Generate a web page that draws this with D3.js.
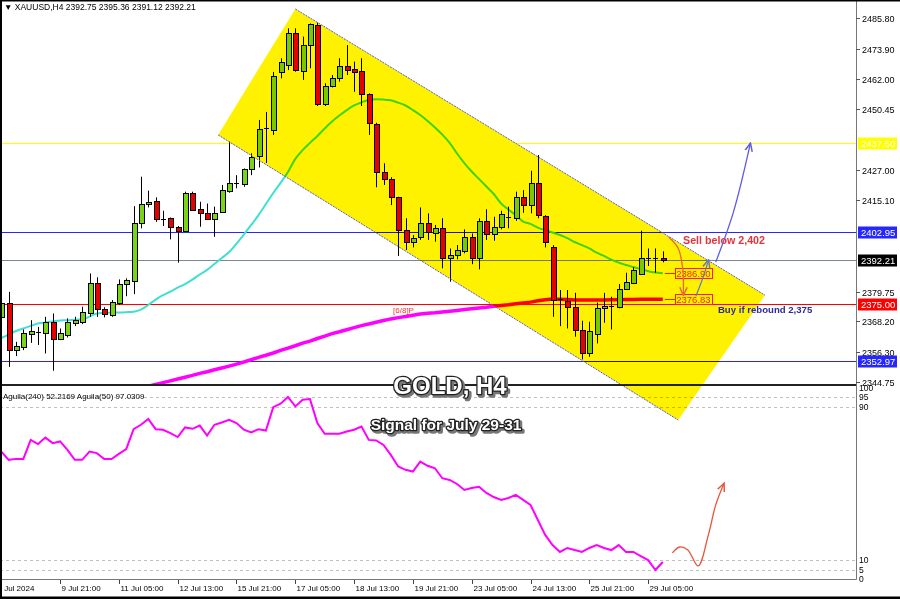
<!DOCTYPE html>
<html><head><meta charset="utf-8">
<script src="https://cdn.jsdelivr.net/npm/d3@7"></script>
<style>body{margin:0;background:#fff}svg{display:block}</style>
</head><body><svg id="c" width="900" height="599"></svg>
<script>
// ---------- DATA ----------
const openP=[2370.0,2375.5,2357.1,2358.2,2363.3,2364.0,2363.8,2368.1,2361.6,2362.9,2367.7,2368.1,2371.6,2383.0,2372.9,2370.7,2375.5,2382.7,2384.0,2406.5,2413.7,2414.9,2408.1,2408.2,2404.9,2403.2,2418.1,2411.6,2410.1,2407.9,2410.7,2418.9,2421.6,2421.5,2427.2,2432.3,2442.7,2442.4,2465.0,2467.6,2479.9,2465.4,2475.3,2483.1,2452.5,2459.4,2462.4,2467.2,2465.9,2465.4,2456.3,2444.7,2426.2,2423.3,2416.3,2403.6,2399.1,2401.0,2406.2,2402.6,2404.3,2392.7,2393.9,2395.6,2400.8,2392.7,2407.2,2402.1,2404.7,2408.4,2408.2,2416.3,2413.3,2421.7,2409.1,2396.9,2376.5,2376.2,2373.7,2364.9,2356.1,2363.3,2373.3,2374.1,2373.7,2380.6,2383.2,2386.6,2392.7,2392.5,2392.75];
const highP=[2376.5,2379.7,2360.3,2365.1,2368.7,2366.1,2370.0,2371.3,2365.5,2369.4,2370.0,2373.9,2386.8,2385.3,2373.7,2376.5,2384.5,2384.9,2412.9,2424.3,2418.9,2416.3,2411.1,2408.5,2405.2,2418.5,2418.5,2414.6,2413.9,2412.7,2421.1,2437.9,2424.9,2427.5,2433.4,2446.3,2449.4,2464.9,2470.2,2481.8,2481.8,2478.6,2483.7,2484.0,2460.5,2463.7,2470.2,2475.3,2468.9,2470.2,2456.6,2445.2,2429.5,2424.1,2416.5,2408.2,2401.7,2412.4,2410.1,2405.6,2408.2,2396.5,2397.8,2403.9,2402.3,2408.2,2411.7,2408.8,2411.1,2412.7,2418.5,2419.1,2426.6,2432.7,2409.4,2397.8,2380.4,2380.4,2379.3,2368.5,2368.1,2375.5,2379.3,2377.8,2382.7,2387.1,2389.2,2403.4,2396.5,2396.5,2395.36];
const lowP=[2369.3,2350.6,2354.8,2357.1,2359.9,2359.1,2355.8,2349.1,2361.0,2362.0,2366.4,2367.2,2370.0,2370.0,2369.8,2370.0,2374.6,2378.0,2378.8,2404.3,2412.4,2406.8,2405.2,2400.0,2391.0,2403.0,2411.1,2404.9,2407.5,2401.0,2410.7,2418.1,2419.8,2420.4,2424.9,2427.9,2429.6,2440.5,2462.4,2465.6,2465.0,2461.8,2466.3,2451.7,2451.7,2458.9,2461.1,2463.7,2457.2,2451.7,2440.5,2420.2,2421.1,2413.3,2393.6,2395.9,2396.9,2399.8,2399.8,2399.1,2388.8,2383.6,2392.3,2394.6,2390.4,2388.4,2399.8,2399.5,2403.9,2404.3,2407.2,2410.3,2410.1,2408.2,2396.9,2370.0,2366.4,2365.5,2362.3,2353.5,2354.5,2359.7,2367.7,2365.1,2373.3,2380.4,2382.7,2386.2,2389.7,2387.1,2391.12];
const closeP=[2375.5,2357.1,2358.7,2363.6,2364.6,2364.3,2368.1,2361.6,2363.8,2368.1,2368.7,2372.0,2383.0,2372.9,2371.1,2375.8,2382.7,2384.2,2406.5,2413.7,2414.6,2407.8,2407.9,2404.7,2403.2,2418.1,2411.4,2410.1,2407.9,2410.3,2419.1,2421.7,2421.8,2427.2,2431.8,2442.7,2443.1,2463.3,2468.9,2479.9,2465.6,2475.3,2483.5,2452.5,2459.4,2462.4,2467.2,2465.6,2465.0,2456.3,2445.2,2426.2,2423.3,2416.3,2403.6,2399.1,2400.4,2406.2,2403.0,2404.3,2392.7,2393.9,2395.9,2400.8,2392.7,2407.2,2402.1,2404.7,2409.8,2408.7,2416.3,2413.3,2421.7,2409.4,2399.1,2376.5,2376.9,2373.9,2364.9,2356.1,2364.6,2373.3,2374.2,2374.3,2380.6,2383.6,2388.1,2392.7,2392.5,2392.8,2392.21];
const maFast=[2361.8,2363.1,2364.5,2365.5,2366.5,2367.4,2367.8,2368.2,2368.6,2368.7,2368.9,2369.0,2370.1,2371.3,2371.6,2371.6,2371.7,2371.8,2372.0,2372.8,2374.6,2376.7,2378.4,2379.8,2381.3,2382.7,2384.4,2386.4,2388.2,2390.5,2392.8,2395.1,2398.4,2401.9,2405.6,2409.4,2413.7,2418.0,2421.9,2426.1,2431.2,2434.6,2437.4,2440.1,2443.0,2445.7,2448.0,2450.1,2451.9,2453.1,2454.0,2454.3,2454.2,2453.9,2453.0,2451.9,2450.1,2448.2,2445.9,2443.4,2440.6,2437.4,2433.3,2429.6,2426.3,2423.4,2420.5,2417.6,2413.9,2411.6,2409.4,2406.9,2406.0,2404.6,2403.6,2402.7,2401.7,2400.5,2399.0,2397.8,2396.5,2394.9,2393.6,2392.2,2391.0,2390.1,2389.3,2388.5,2387.7,2387.2,2386.9];
const maSlow=[null,null,null,null,null,null,null,null,null,null,null,null,null,null,null,null,null,null,2341.6,2342.4,2343.1,2343.8,2344.5,2345.2,2345.9,2346.6,2347.3,2348.1,2348.7,2349.5,2350.2,2350.9,2351.7,2352.5,2353.4,2354.3,2355.1,2356.0,2357.0,2357.9,2358.8,2359.8,2360.6,2361.6,2362.5,2363.5,2364.2,2365.0,2365.8,2366.6,2367.2,2367.9,2368.6,2369.2,2369.7,2370.1,2370.6,2371.1,2371.4,2371.6,2371.9,2372.2,2372.5,2372.8,2373.1,2373.4,2373.7,2374.1,2374.4,2374.7,2375.1,2375.4,2375.7,2376.2,2376.6,2376.9,2376.8,2376.7,2376.5,2376.5,2376.5,2376.5,2376.5,2376.6,2376.6,2376.7,2376.7,2376.8,2376.8,2376.8,2376.83];
const aguila=[66.6,62.3,62.8,62.8,72.7,70.5,73.9,71.0,71.9,67.5,62.3,62.3,66.6,65.8,62.7,62.7,65.4,67.9,78.3,80.6,83.6,78.3,78.0,76.2,74.2,79.2,78.5,80.2,75.0,80.6,81.8,83.2,81.5,78.0,76.6,78.3,77.6,89.8,91.6,95.1,90.2,93.7,94.0,81.5,75.9,75.9,75.9,77.1,78.0,79.7,72.7,72.4,70.1,64.9,58.8,57.1,56.2,61.4,59.2,57.9,52.7,51.8,49.7,46.6,47.6,48.2,45.0,42.9,41.4,42.4,44.0,41.4,38.8,30.9,23.1,17.8,14.2,16.3,15.2,14.2,16.3,17.8,16.3,15.2,17.8,14.2,14.2,12.1,10.0,4.8,9.0];
const timeLabels=["8 Jul 2024","9 Jul 21:00","11 Jul 05:00","12 Jul 13:00","15 Jul 21:00","17 Jul 05:00","18 Jul 13:00","19 Jul 21:00","23 Jul 05:00","24 Jul 13:00","25 Jul 21:00","29 Jul 05:00"];
const priceTicks=[2485.80,2473.90,2462.00,2450.45,2427.00,2415.10,2379.75,2368.20,2356.30,2344.75];
const levels=[{v:2437.50,c:"#ffff00",t:"#ffffff"},{v:2402.95,c:"#2626ff",t:"#ffffff"},{v:2392.21,c:"#000000",t:"#ffffff",line:"#7a8896"},{v:2375.00,c:"#ff0000",t:"#ffffff"},{v:2352.97,c:"#2626ff",t:"#ffffff"}];
const oscLevels=[95,90,10,5];
const oscTicks=[100,95,90,10,5,0];
const channel=[[29.5,2440.5],[40,2489.3],[103.9,2378.4],[92.1,2330.0]];
const sellArrow=[[90.8,2400.9],[92.1,2396.5],[92.7,2389.0],[92.8,2378.6]];
const buyArrowSmall=[[94.5,2378.0],[95.5,2385.5],[96.2,2391.8]];
const buyArrowBig=[[97.2,2391.2],[99.6,2410.5],[101.9,2437.0]];
const oscArrow=[[91.3,13.7],[92.3,16.8],[93.4,15.3],[94.8,6.9],[96.2,23.1],[97.2,38.8],[98.3,49.7]];

// ---------- SETUP ----------
const W=900,H=599,plotR=856,priceBot=385,oscTop=387,oscBot=579;
const svg=d3.select('#c');
const x=d3.scaleLinear().domain([0,100]).range([1.3,736.3]);
const y=d3.scaleLinear().domain([2344.75,2485.80]).range([382,18]);
const yo=d3.scaleLinear().domain([0,100]).range([579.2,387.6]);
const FONT='"Liberation Sans",Arial,sans-serif';
svg.append('rect').attr('width',W).attr('height',H).attr('fill','#fff');
const defs=svg.append('defs');
defs.append('clipPath').attr('id','cp').append('rect').attr('x',0).attr('y',0).attr('width',plotR).attr('height',priceBot);
defs.append('clipPath').attr('id','co').append('rect').attr('x',0).attr('y',oscTop).attr('width',plotR).attr('height',oscBot-oscTop);
function marker(id,color){
  defs.append('marker').attr('id',id).attr('viewBox','0 0 10 10').attr('refX',8).attr('refY',5)
   .attr('markerWidth',7).attr('markerHeight',7).attr('orient','auto-start-reverse')
   .append('path').attr('d','M0,1 L9,5 L0,9').attr('fill','none').attr('stroke',color).attr('stroke-width',1.6);
}
marker('mo','#e8673c');marker('mb','#5b5be6');marker('ms','#6878b8');marker('mr','#e8553c');

const pp=svg.append('g').attr('clip-path','url(#cp)');
levels.forEach(l=>{
  pp.append('line').attr('x1',0).attr('x2',plotR).attr('y1',Math.round(y(l.v))+0.5).attr('y2',Math.round(y(l.v))+0.5)
   .attr('stroke',l.line||l.c).attr('stroke-width',1);
});
const idx=d3.range(openP.length);
pp.append('path').datum(idx.filter(i=>maSlow[i]!=null)).attr('fill','none').attr('stroke','#ff00ff').attr('stroke-width',3.5)
  .attr('d',d3.line().x(i=>x(i)).y(i=>y(maSlow[i])));
pp.append('path').datum(idx).attr('fill','none').attr('stroke','#3fe0d0').attr('stroke-width',2)
  .attr('d',d3.line().curve(d3.curveMonotoneX).x(i=>x(i)).y(i=>y(maFast[i])));
const cg=pp.append('g');
idx.forEach(i=>{
  const cx=Math.round(x(i));
  cg.append('line').attr('x1',cx+0.5).attr('x2',cx+0.5).attr('y1',y(highP[i])).attr('y2',y(lowP[i])).attr('stroke','#000').attr('stroke-width',1);
  const up=closeP[i]>=openP[i];
  const top=Math.round(y(Math.max(openP[i],closeP[i]))),bot=Math.round(y(Math.min(openP[i],closeP[i])));
  if(bot-top<1.5){
    cg.append('line').attr('x1',cx-2).attr('x2',cx+3).attr('y1',top+0.5).attr('y2',top+0.5).attr('stroke','#000');
  } else {
    cg.append('rect').attr('x',cx-2+0.5).attr('y',top+0.5).attr('width',5).attr('height',bot-top)
     .attr('fill',up?'#78d414':'#e60000').attr('stroke','#000').attr('stroke-width',1);
  }
});
[{v:maFast[90],t:'2386.90'},{v:maSlow[90],t:'2376.83'}].forEach(o=>{
  const yy=Math.round(y(o.v))+0.5;
  svg.append('line').attr('x1',x(90)+2).attr('x2',x(91.65)).attr('y1',yy).attr('y2',yy).attr('stroke','#ff2020');
  svg.append('rect').attr('x',Math.round(x(91.65))+0.5).attr('y',yy-5).attr('width',37).attr('height',10)
   .attr('fill','none').attr('stroke','#ff2020');
  svg.append('text').attr('x',x(91.65)+18.5).attr('y',yy+3.5).attr('text-anchor','middle')
   .attr('font-family',FONT).attr('font-size',9.5).attr('fill','#ff2020').text(o.t);
});
svg.append('text').attr('x',x(53.3)).attr('y',y(2371.3)).attr('font-family',FONT).attr('font-size',8)
  .attr('fill','#ff3030').text('[6/8]P');

// ---------- OSC PANE ----------
const og=svg.append('g').attr('clip-path','url(#co)');
oscLevels.forEach(v=>{
  og.append('line').attr('x1',0).attr('x2',plotR).attr('y1',Math.round(yo(v))+0.5).attr('y2',Math.round(yo(v))+0.5)
   .attr('stroke','#c0c0c0').attr('stroke-dasharray','3,3');
});
og.append('path').datum(idx).attr('fill','none').attr('stroke','#ff00ff').attr('stroke-width',2)
  .attr('d',d3.line().x(i=>x(i)).y(i=>yo(aguila[i])));
svg.append('text').attr('x',3).attr('y',399).attr('font-family',FONT).attr('font-size',8).attr('fill','#000')
  .text('Aguila(240) 52.2169  Aguila(50) 97.0309');

// ---------- CHANNEL ----------
svg.append('polygon').attr('points',channel.map(d=>[x(d[0]),y(d[1])].join(',')).join(' '))
  .attr('fill','#fff200').style('mix-blend-mode','multiply');
[[channel[1],channel[2]],[channel[0],channel[3]]].forEach(e=>{
  svg.append('line').attr('x1',x(e[0][0])).attr('y1',y(e[0][1])).attr('x2',x(e[1][0])).attr('y2',y(e[1][1]))
   .attr('stroke','#5a5ad0').attr('stroke-width',1).attr('stroke-dasharray','2,1');
});

// ---------- ARROWS & TEXT ----------
const lp=d3.line().curve(d3.curveCatmullRom).x(d=>x(d[0])).y(d=>y(d[1]));
svg.append('path').attr('d',lp(sellArrow)).attr('fill','none').attr('stroke','#e8673c').attr('stroke-width',1.3).attr('marker-end','url(#mo)');
svg.append('path').attr('d',lp(buyArrowSmall)).attr('fill','none').attr('stroke','#6878b8').attr('stroke-width',1.3).attr('marker-end','url(#ms)');
svg.append('path').attr('d',lp(buyArrowBig)).attr('fill','none').attr('stroke','#5b5be6').attr('stroke-width',1.3).attr('marker-end','url(#mb)');
const lo=d3.line().curve(d3.curveCatmullRom).x(d=>x(d[0])).y(d=>yo(d[1]));
svg.append('path').attr('d',lo(oscArrow)).attr('fill','none').attr('stroke','#e8553c').attr('stroke-width',1.3).attr('marker-end','url(#mr)');
svg.append('text').attr('x',x(92.75)).attr('y',y(2398.3)).attr('font-family',FONT).attr('font-weight','bold')
  .attr('font-size',10.7).attr('fill','#e5323c').text('Sell below 2,402');
svg.append('text').attr('x',x(97.5)).attr('y',y(2371.4)).attr('font-family',FONT).attr('font-weight','bold')
  .attr('font-size',9.6).attr('fill','#2a2a9c').text('Buy if rebound 2,375');

// ---------- FRAMES & AXES ----------
svg.append('line').attr('x1',0).attr('x2',plotR).attr('y1',385).attr('y2',385).attr('stroke','#222').attr('stroke-width',2);
svg.append('line').attr('x1',plotR+0.5).attr('x2',plotR+0.5).attr('y1',0).attr('y2',oscBot+0.5).attr('stroke','#777');
svg.append('line').attr('x1',0).attr('x2',plotR+0.5).attr('y1',oscBot+0.5).attr('y2',oscBot+0.5).attr('stroke','#777');
priceTicks.forEach(v=>{
  const yy=Math.round(y(v))+0.5;
  svg.append('line').attr('x1',plotR).attr('x2',plotR+4).attr('y1',yy).attr('y2',yy).attr('stroke','#555');
  svg.append('text').attr('x',plotR+6).attr('y',yy+3.2).attr('font-family',FONT).attr('font-size',9).attr('fill','#000').text(v.toFixed(2));
});
levels.forEach(l=>{
  const yy=Math.round(y(l.v))+0.5;
  svg.append('rect').attr('x',plotR+2).attr('y',yy-6).attr('width',39).attr('height',12).attr('fill',l.c);
  svg.append('text').attr('x',plotR+5).attr('y',yy+3.3).attr('font-family',FONT).attr('font-size',9.5).attr('fill',l.t).text(l.v.toFixed(2));
});
oscTicks.forEach(v=>{
  svg.append('text').attr('x',plotR+3).attr('y',yo(v)+3).attr('font-family',FONT).attr('font-size',8.5).attr('fill','#000').text(v);
});
timeLabels.forEach((t,k)=>{
  const xx=Math.round(x(k*8))+0.5;
  svg.append('line').attr('x1',xx).attr('x2',xx).attr('y1',oscBot+1).attr('y2',oscBot+5).attr('stroke','#444');
  svg.append('text').attr('x',xx+(k===0?-4:1)).attr('y',591).attr('font-family',FONT).attr('font-size',8).attr('fill','#000').text(t);
});
svg.append('text').attr('x',4).attr('y',10).attr('font-family',FONT).attr('font-size',8.5).attr('fill','#000')
  .text('\u25BC XAUUSD,H4  2392.75 2395.36 2391.12 2392.21');
svg.append('rect').attr('x',0).attr('y',0).attr('width',2).attr('height',H).attr('fill','#000');
svg.append('rect').attr('x',0).attr('y',0).attr('width',W).attr('height',1.5).attr('fill','#000');
svg.append('rect').attr('x',0).attr('y',H-2.5).attr('width',W).attr('height',2.5).attr('fill','#000');

// ---------- TITLE TEXTS ----------
function fancy(txt,cx,by,fs){
  svg.append('text').attr('x',cx+2).attr('y',by+2).attr('text-anchor','middle').attr('font-family',FONT)
   .attr('font-weight','bold').attr('font-size',fs).attr('fill','#777').attr('stroke','#777').attr('stroke-width',3.5)
   .attr('stroke-linejoin','round').text(txt);
  svg.append('text').attr('x',cx).attr('y',by).attr('text-anchor','middle').attr('font-family',FONT)
   .attr('font-weight','bold').attr('font-size',fs).attr('fill','#fff').attr('stroke','#222').attr('stroke-width',2.6)
   .attr('stroke-linejoin','round').style('paint-order','stroke').text(txt);
}
fancy('GOLD, H4',450,394,24);
fancy('Signal for July 29-31',446,430,15.5);
</script></body></html>
